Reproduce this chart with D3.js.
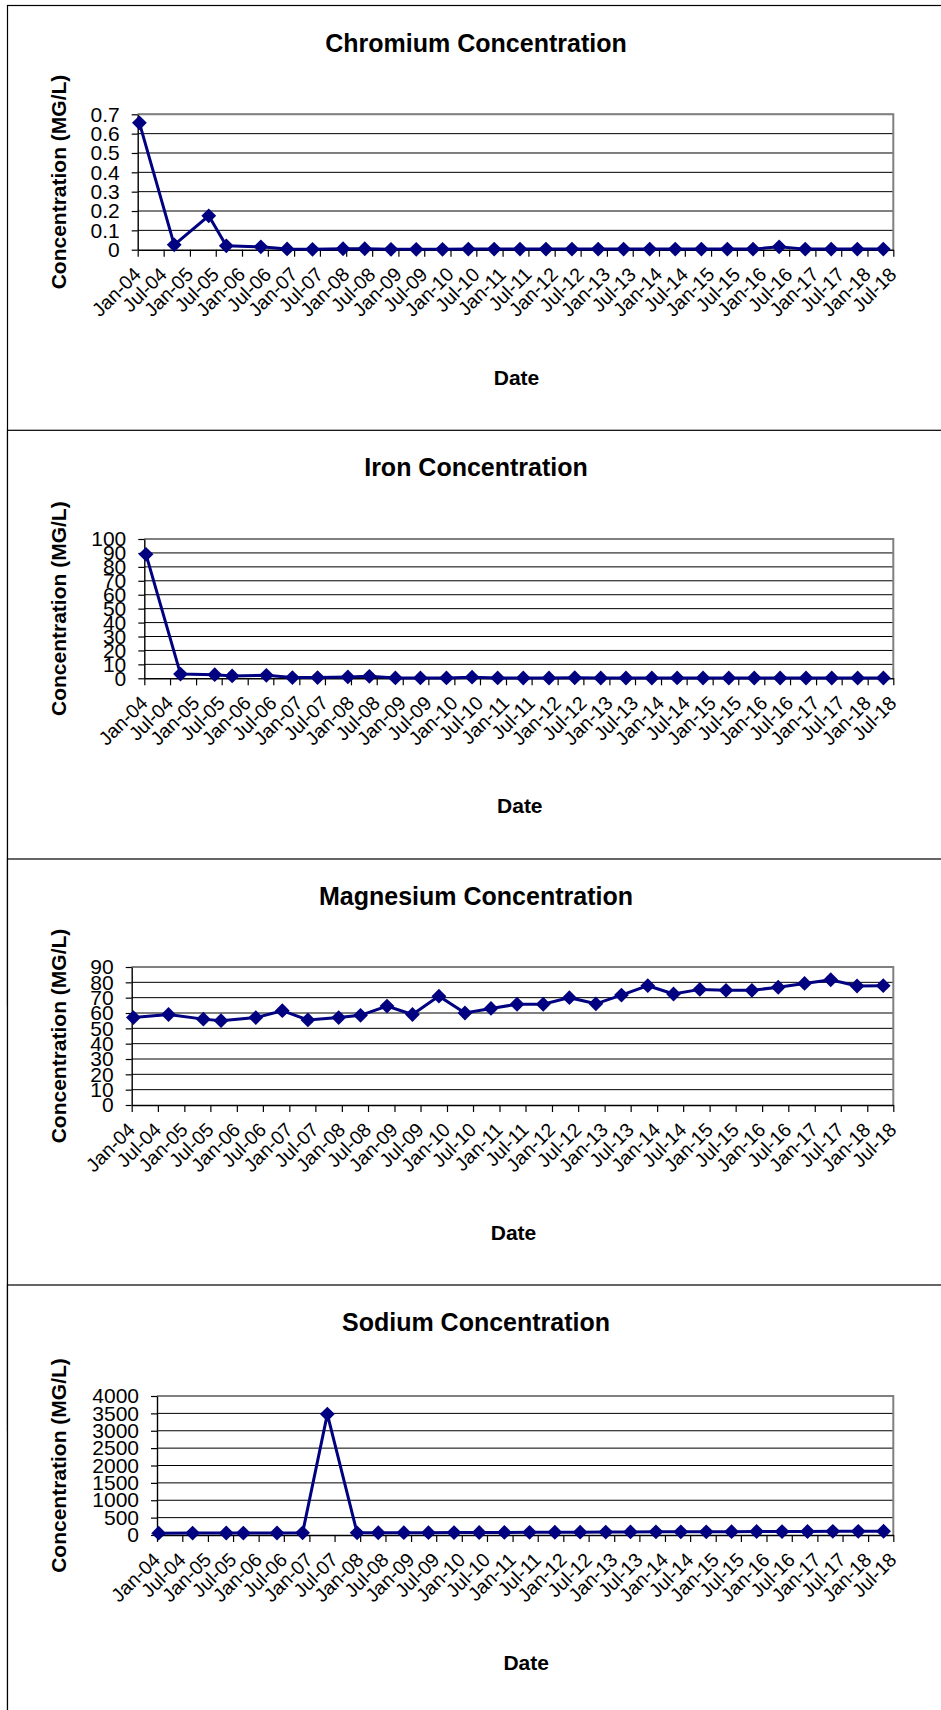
<!DOCTYPE html>
<html>
<head>
<meta charset="utf-8">
<script src="https://cdn.jsdelivr.net/npm/d3@7"></script>
<style>
  body { margin: 0; background: #fff; }
  svg { display: block; }
  text { font-family: "Liberation Sans", Arial, sans-serif; fill: #000; }
</style>
</head>
<body>
<svg id="chart" width="941" height="1710"></svg>
<script>
// sampling dates, shared by all four charts
let sampleDates = [
  "2004-01-13", "2004-09-13", "2005-05-13", "2005-09-13", "2006-05-13", "2006-11-13",
  "2007-05-10", "2007-12-10", "2008-05-10", "2008-11-10", "2009-05-06", "2009-11-06",
  "2010-05-06", "2010-11-03", "2011-05-03", "2011-11-01", "2012-05-01", "2012-11-01",
  "2013-04-28", "2013-10-28", "2014-04-25", "2014-10-25", "2015-04-25", "2015-10-22",
  "2016-04-22", "2016-10-22", "2017-04-22", "2017-10-22", "2018-04-22"
];

let xTicks = [
  "Jan-04", "Jul-04", "Jan-05", "Jul-05", "Jan-06", "Jul-06", "Jan-07", "Jul-07",
  "Jan-08", "Jul-08", "Jan-09", "Jul-09", "Jan-10", "Jul-10", "Jan-11", "Jul-11",
  "Jan-12", "Jul-12", "Jan-13", "Jul-13", "Jan-14", "Jul-14", "Jan-15", "Jul-15",
  "Jan-16", "Jul-16", "Jan-17", "Jul-17", "Jan-18", "Jul-18"
];

let chromium = [0.656, 0.025, 0.175, 0.02, 0.015, 0.004, 0.002, 0.005, 0.005, 0.002, 0.002, 0.002,
  0.003, 0.003, 0.003, 0.003, 0.003, 0.003, 0.003, 0.003, 0.003, 0.003, 0.003, 0.003,
  0.015, 0.003, 0.003, 0.003, 0.003];
let chromiumTicks = [0, 0.1, 0.2, 0.3, 0.4, 0.5, 0.6, 0.7];

let iron = [89, 3, 2.6, 1.7, 2.1, 0.5, 0.5, 1, 1.4, 0.3, 0.3, 0.3,
  0.8, 0.3, 0.2, 0.2, 0.4, 0.2, 0.2, 0.2, 0.3, 0.2, 0.2, 0.2,
  0.2, 0.2, 0.2, 0.2, 0.2];
let ironTicks = [0, 10, 20, 30, 40, 50, 60, 70, 80, 90, 100];

let magnesium = [57, 59, 56, 55, 57, 61.5, 55.5, 57, 58.5, 64.5, 59, 71,
  60, 63, 65.7, 65.7, 70, 66, 71.7, 77.8, 72.4, 75.4, 74.8, 74.8,
  76.8, 79.3, 81.7, 77.6, 77.8];
let magnesiumTicks = [0, 10, 20, 30, 40, 50, 60, 70, 80, 90];

let sodium = [52, 55, 58, 55, 58, 62, 3480, 62, 65, 68, 66, 70,
  72, 75, 78, 80, 82, 85, 88, 90, 92, 90, 95, 100,
  98, 100, 105, 105, 108];
let sodiumTicks = [0, 500, 1000, 1500, 2000, 2500, 3000, 3500, 4000];

let parseDay = d3.timeParse("%Y-%m-%d");
let parseTick = d3.timeParse("%b-%y");
let dates = sampleDates.map(parseDay);
let tickDates = xTicks.map(parseTick);

// layout of each Excel chart object on the sheet
let charts = [
  {title: "Chromium Concentration", values: chromium, ticks: chromiumTicks,
   top: 5.5, left: 137.7, plotTop: 114.3, plotBottom: 249.7},
  {title: "Iron Concentration", values: iron, ticks: ironTicks,
   top: 430.3, left: 144.3, plotTop: 539, plotBottom: 678.3},
  {title: "Magnesium Concentration", values: magnesium, ticks: magnesiumTicks,
   top: 859, left: 131.7, plotTop: 967, plotBottom: 1105},
  {title: "Sodium Concentration", values: sodium, ticks: sodiumTicks,
   top: 1285, left: 157, plotTop: 1396, plotBottom: 1535}
];
let plotRight = 893.3;
let navy = "#000080";

let svg = d3.select("#chart");

charts.forEach((c) => {
  let g = svg.append("g");

  // chart object border (runs off the right edge of the sheet)
  g.append("rect")
    .attr("x", 7.5).attr("y", c.top)
    .attr("width", 1000).attr("height", 1000)
    .attr("fill", "#fff").attr("stroke", "#000").attr("stroke-width", 1.2);

  let x = d3.scaleTime().domain([tickDates[0], tickDates[tickDates.length - 1]]).range([c.left, plotRight]);
  let y = d3.scaleLinear().domain([0, d3.max(c.ticks)]).range([c.plotBottom, c.plotTop]);

  g.append("text")
    .attr("x", 476).attr("y", c.top + 46)
    .attr("text-anchor", "middle")
    .style("font-size", "25px").style("font-weight", "bold")
    .text(c.title);

  // gridlines
  g.append("g").selectAll("line").data(c.ticks.filter(t => t > 0)).enter()
    .append("line")
    .attr("x1", c.left).attr("x2", plotRight)
    .attr("y1", d => y(d)).attr("y2", d => y(d))
    .attr("stroke", "#000").attr("stroke-width", 1);

  // plot area frame top/right
  g.append("path")
    .attr("d", `M${c.left},${c.plotTop}H${plotRight}V${c.plotBottom}`)
    .attr("fill", "none").attr("stroke", "#808080").attr("stroke-width", 2);

  let yAxis = g.append("g")
    .attr("transform", `translate(${c.left},0)`)
    .call(d3.axisLeft(y).tickValues(c.ticks).tickSize(6).tickSizeOuter(0).tickPadding(12).tickFormat(d => String(d)));
  yAxis.select(".domain").attr("stroke", "#000").attr("stroke-width", 1.4);
  yAxis.selectAll(".tick line").attr("stroke", "#000").attr("stroke-width", 1.2);
  yAxis.selectAll("text").style("font-size", "21px").attr("fill", "#000");

  let xAxis = g.append("g")
    .attr("transform", `translate(0,${c.plotBottom})`)
    .call(d3.axisBottom(x).tickValues(tickDates).tickSize(7).tickSizeOuter(0).tickFormat(d3.timeFormat("%b-%y")));
  xAxis.select(".domain").attr("stroke", "#000").attr("stroke-width", 1.4);
  xAxis.selectAll(".tick line").attr("stroke", "#000").attr("stroke-width", 1.2);
  xAxis.selectAll("text")
    .attr("x", 0).attr("y", 0).attr("dy", 0)
    .attr("text-anchor", "end")
    .attr("transform", "translate(4,26) rotate(-45)")
    .style("font-size", "19.5px").attr("fill", "#000");

  // axis titles
  g.append("text")
    .attr("transform", `translate(65.5,${(c.plotTop + c.plotBottom) / 2}) rotate(-90)`)
    .attr("text-anchor", "middle")
    .style("font-size", "21px").style("font-weight", "bold")
    .text("Concentration (MG/L)");

  g.append("text")
    .attr("x", (c.left + plotRight) / 2 + 1).attr("y", c.plotBottom + 135)
    .attr("text-anchor", "middle")
    .style("font-size", "21px").style("font-weight", "bold")
    .text("Date");

  let pts = c.values.map((v, i) => ({date: dates[i], value: v}));

  g.append("path")
    .datum(pts)
    .attr("fill", "none").attr("stroke", navy).attr("stroke-width", 3)
    .attr("d", d3.line().x(d => x(d.date)).y(d => y(d.value)));

  g.append("g").selectAll("path").data(pts).enter()
    .append("path")
    .attr("transform", d => `translate(${x(d.date)},${y(d.value)})`)
    .attr("d", d3.symbol(d3.symbolDiamond2, 140))
    .attr("fill", navy);
});
</script>
</body>
</html>
